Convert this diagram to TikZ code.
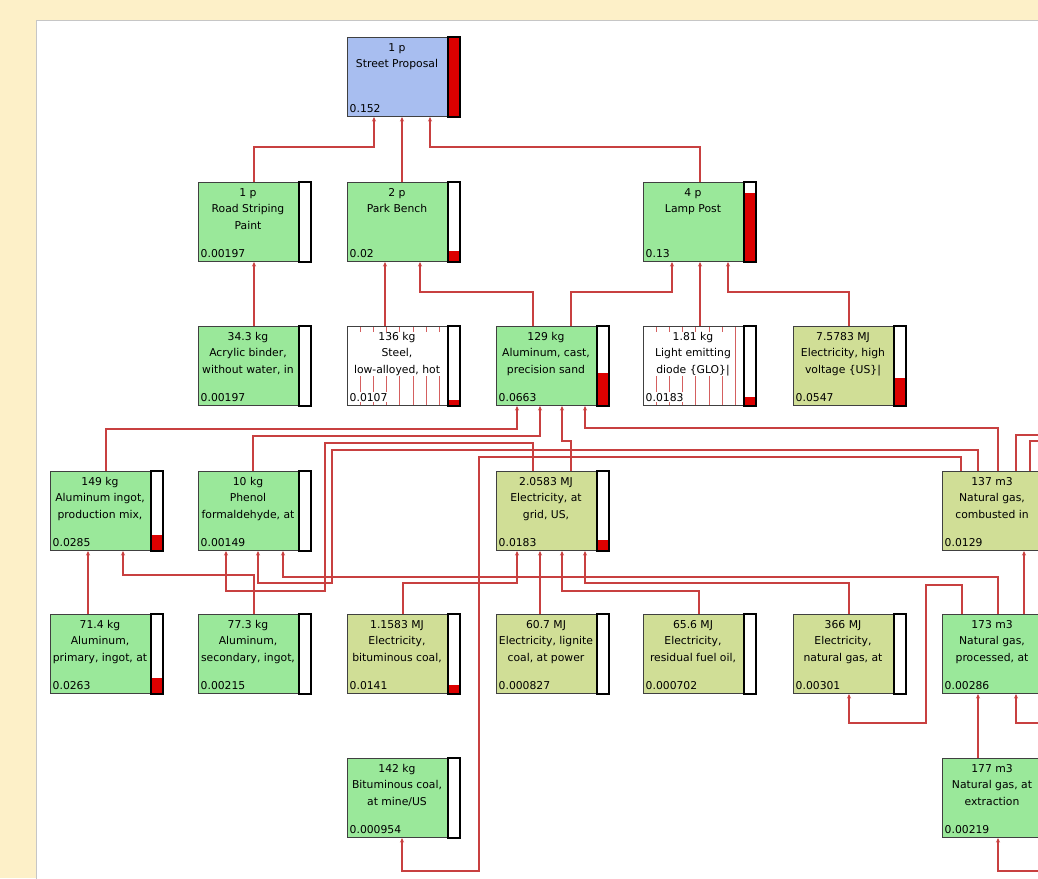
\documentclass[tikz,border=0pt]{standalone}
\usepackage{fontspec}
\setmainfont{DejaVu Sans}
\usetikzlibrary{arrows.meta}
\definecolor{bgcream}{RGB}{253,240,200}
\definecolor{spblue}{RGB}{168,190,240}
\definecolor{pgreen}{RGB}{154,232,154}
\definecolor{polive}{RGB}{208,222,150}
\definecolor{conred}{RGB}{200,64,64}
\definecolor{barfill}{RGB}{220,0,0}
\definecolor{hatchred}{RGB}{212,96,96}
\tikzset{
  procnode/.style={rectangle, draw=black!75, line width=1pt, minimum width=112pt, minimum height=79pt, inner sep=0pt, anchor=north west},
  ptext/.style={anchor=north, align=center, font=\fontsize{10.8}{16.5}\selectfont, inner xsep=1pt, inner ysep=0pt, text=black},
  pval/.style={anchor=base west, font=\fontsize{10.8}{13}\selectfont, inner sep=0.5pt, text=black},
  barstyle/.style={fill=barfill},
  barframe/.style={draw=black, line width=1.2pt},
  hatchline/.style={draw=hatchred, line width=0.8pt},
  conn/.style={draw=conred, line width=1.1pt, -{Stealth[length=4.5pt,width=4pt]}},
  connfree/.style={draw=conred, line width=1.1pt}
}
\newcommand{\hatchlines}[1]{%
  \foreach \hx in {13,26,39,52,66,79,92}{%
    \draw[hatchline] ([xshift=\hx pt, yshift=-1pt]#1.north west) -- ([xshift=\hx pt, yshift=1pt]#1.south west);}}
\newcommand{\procbox}[8]{%
  \node[procnode, fill=#4] (#1) at (#2,#3) {};
  #8
  \node[ptext, fill=#4] (#1-t) at ([xshift=50pt,yshift=-6pt]#1.north west) {#6};
  \node[pval, fill=#4] (#1-v) at ([xshift=2pt,yshift=5pt]#1.south west) {#7};
  \fill[white] ([xshift=-12pt]#1.north east) rectangle (#1.south east);
  \fill[barstyle] ([xshift=-12pt]#1.south east) rectangle ++(12,{-79*#5});
  \draw[barframe] ([xshift=-12pt]#1.north east) rectangle (#1.south east);
}
\begin{document}
\begin{tikzpicture}[x=1pt,y=-1pt]
\clip (0,0) rectangle (1038,878);
\fill[bgcream] (0,0) rectangle (1038,878);
\fill[white] (36,20) rectangle (1045,885);
\draw[gray!45, line width=0.8pt] (36,885) -- (36,20) -- (1045,20);

\procbox{SP}{347}{37}{spblue}{1}{1 p\\Street Proposal}{0.152}{}
\procbox{RS}{198}{182}{pgreen}{0}{1 p\\Road Striping\\Paint}{0.00197}{}
\procbox{PB}{347}{182}{pgreen}{0.14}{2 p\\Park Bench}{0.02}{}
\procbox{LP}{643}{182}{pgreen}{0.87}{4 p\\Lamp Post}{0.13}{}
\procbox{AB}{198}{326}{pgreen}{0}{34.3 kg\\Acrylic binder,\\without water, in}{0.00197}{}
\procbox{ST}{347}{326}{white}{0.07}{136 kg\\Steel,\\low-alloyed, hot}{0.0107}{\hatchlines{ST}}
\procbox{AC}{496}{326}{pgreen}{0.42}{129 kg\\Aluminum, cast,\\precision sand}{0.0663}{}
\procbox{LED}{643}{326}{white}{0.12}{1.81 kg\\Light emitting\\diode \{GLO\}|}{0.0183}{\hatchlines{LED}}
\procbox{EHV}{793}{326}{polive}{0.36}{7.5783 MJ\\Electricity, high\\voltage \{US\}|}{0.0547}{}
\procbox{AI}{50}{471}{pgreen}{0.2}{149 kg\\Aluminum ingot,\\production mix,}{0.0285}{}
\procbox{PH}{198}{471}{pgreen}{0}{10 kg\\Phenol\\formaldehyde, at}{0.00149}{}
\procbox{EG}{496}{471}{polive}{0.14}{2.0583 MJ\\Electricity, at\\grid, US,}{0.0183}{}
\procbox{NGC}{942}{471}{polive}{0}{137 m3\\Natural gas,\\combusted in}{0.0129}{}
\procbox{AP}{50}{614}{pgreen}{0.2}{71.4 kg\\Aluminum,\\primary, ingot, at}{0.0263}{}
\procbox{AS}{198}{614}{pgreen}{0}{77.3 kg\\Aluminum,\\secondary, ingot,}{0.00215}{}
\procbox{EB}{347}{614}{polive}{0.12}{1.1583 MJ\\Electricity,\\bituminous coal,}{0.0141}{}
\procbox{EL}{496}{614}{polive}{0}{60.7 MJ\\Electricity, lignite\\coal, at power}{0.000827}{}
\procbox{ER}{643}{614}{polive}{0}{65.6 MJ\\Electricity,\\residual fuel oil,}{0.000702}{}
\procbox{EN}{793}{614}{polive}{0}{366 MJ\\Electricity,\\natural gas, at}{0.00301}{}
\procbox{NGP}{942}{614}{pgreen}{0}{173 m3\\Natural gas,\\processed, at}{0.00286}{}
\procbox{BC}{347}{758}{pgreen}{0}{142 kg\\Bituminous coal,\\at mine/US}{0.000954}{}
\procbox{NGE}{942}{758}{pgreen}{0}{177 m3\\Natural gas, at\\extraction}{0.00219}{}

\coordinate (e1) at (1045,435);
\coordinate (e2) at (1045,441);
\coordinate (e3) at (1045,723);
\coordinate (e4) at (1045,871);

% level 1
\draw[conn] ([xshift=56pt]RS.north west) -- ++(0,-35) -| ([xshift=27pt]SP.south west);
\draw[conn] ([xshift=55pt]PB.north west) -- ([xshift=55pt]SP.south west);
\draw[conn] ([xshift=57pt]LP.north west) -- ++(0,-35) -| ([xshift=83pt]SP.south west);
% level 2
\draw[conn] ([xshift=56pt]AB.north west) -- ([xshift=56pt]RS.south west);
\draw[conn] ([xshift=38pt]ST.north west) -- ([xshift=38pt]PB.south west);
\draw[conn] ([xshift=37pt]AC.north west) -- ++(0,-34) -| ([xshift=73pt]PB.south west);
\draw[conn] ([xshift=75pt]AC.north west) -- ++(0,-34) -| ([xshift=29pt]LP.south west);
\draw[conn] ([xshift=57pt]LED.north west) -- ([xshift=57pt]LP.south west);
\draw[conn] ([xshift=56pt]EHV.north west) -- ++(0,-34) -| ([xshift=85pt]LP.south west);
% level 3
\draw[conn] ([xshift=56pt]AI.north west) -- ++(0,-42) -| ([xshift=21pt]AC.south west);
\draw[conn] ([xshift=55pt]PH.north west) -- ++(0,-35) -| ([xshift=44pt]AC.south west);
\draw[conn] ([xshift=75pt]EG.north west) -- ++(0,-30) -| ([xshift=66pt]AC.south west);
\draw[conn] ([xshift=56pt]NGC.north west) -- ++(0,-43) -| ([xshift=89pt]AC.south west);
\draw[conn] ([xshift=37pt]EG.north west) -- ++(0,-28) -- ++(-208,0) -- ++(0,148) -| ([xshift=28pt]PH.south west);
\draw[conn] ([xshift=36pt]NGC.north west) -- ++(0,-21) -- ++(-646,0) -- ++(0,133) -| ([xshift=60pt]PH.south west);
\draw[conn] ([xshift=19pt]NGC.north west) -- ++(0,-14) -- ++(-482,0) -- ++(0,414) -| ([xshift=55pt]BC.south west);
\draw[connfree] ([xshift=74pt]NGC.north west) |- (e1);
\draw[connfree] ([xshift=88pt]NGC.north west) |- (e2);
% level 4
\draw[conn] ([xshift=38pt]AP.north west) -- ([xshift=38pt]AI.south west);
\draw[conn] ([xshift=56pt]AS.north west) -- ++(0,-39) -| ([xshift=73pt]AI.south west);
\draw[conn] ([xshift=56pt]NGP.north west) -- ++(0,-37) -| ([xshift=85pt]PH.south west);
\draw[conn] ([xshift=56pt]EB.north west) -- ++(0,-31) -| ([xshift=21pt]EG.south west);
\draw[conn] ([xshift=44pt]EL.north west) -- ([xshift=44pt]EG.south west);
\draw[conn] ([xshift=56pt]ER.north west) -- ++(0,-23) -| ([xshift=66pt]EG.south west);
\draw[conn] ([xshift=56pt]EN.north west) -- ++(0,-31) -| ([xshift=89pt]EG.south west);
\draw[conn] ([xshift=82pt]NGP.north west) -- ([xshift=82pt]NGC.south west);
\draw[conn] ([xshift=20pt]NGP.north west) -- ++(0,-29) -- ++(-36,0) -- ++(0,138) -| ([xshift=56pt]EN.south west);
\draw[conn] (e3) -| ([xshift=74pt]NGP.south west);
% level 5
\draw[conn] ([xshift=36pt]NGE.north west) -- ([xshift=36pt]NGP.south west);
\draw[conn] (e4) -| ([xshift=56pt]NGE.south west);
\end{tikzpicture}
\end{document}
